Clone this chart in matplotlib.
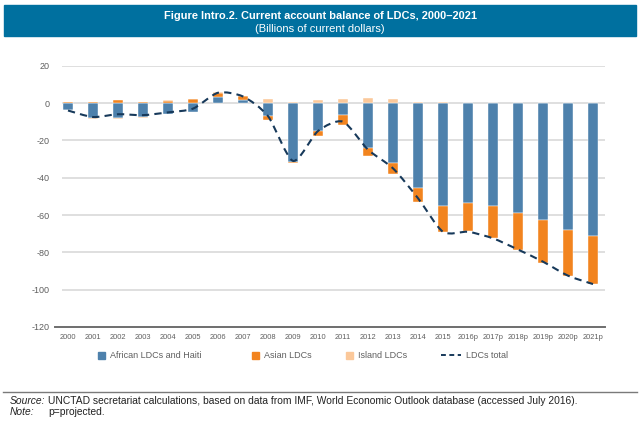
import numpy as np
import matplotlib
matplotlib.use("Agg")
import matplotlib.pyplot as plt
from matplotlib.patches import Rectangle, Patch
from matplotlib.lines import Line2D
from matplotlib.path import Path
from matplotlib.patches import PathPatch

# datos (miles de millones de dolares)
anios = ["2000", "2001", "2002", "2003", "2004", "2005", "2006", "2007", "2008",
         "2009", "2010", "2011", "2012", "2013", "2014", "2015", "2016p", "2017p",
         "2018p", "2019p", "2020p", "2021p"]
africa = [-3.5, -7.8, -8.0, -7.5, -6.0, -4.6, 3.0, 1.5, -7.0, -31.5, -15.0, -6.5,
          -24.0, -32.0, -45.5, -55.0, -53.5, -55.0, -59.0, -62.5, -68.0, -71.0]
asia = [0.8, 0.8, 1.8, 0.8, 1.3, 2.0, 2.5, 2.0, -2.0, -0.5, -2.5, -5.5,
        -4.5, -6.0, -7.5, -14.0, -15.0, -17.5, -19.5, -23.0, -24.5, -26.0]
islas = [-0.5, -0.5, -0.5, -0.5, 0.4, 0.3, 0.3, 0.3, 2.0, 0.5, 1.5, 2.0,
         2.5, 2.0, 0.5, 0.5, 0.2, 0.1, 0.1, 0.1, 0.1, 0.1]
total = [-4.0, -7.5, -6.0, -6.5, -5.0, -3.0, 5.5, 3.5, -7.0, -31.0, -15.0, -10.0,
         -25.0, -35.0, -51.0, -69.0, -69.0, -72.5, -78.5, -85.0, -92.5, -97.0]
yticks = [20, 0, -20, -40, -60, -80, -100, -120]

c_africa = "#4E81AC"
c_asia = "#F2841F"
c_islas = "#FBC89A"
c_total = "#17395A"
gris = "#5f5f5f"

narrow = ["Liberation Sans Narrow", "Liberation Sans", "DejaVu Sans"]
normal = ["Liberation Sans", "DejaVu Sans"]

W, H = 640, 422
fig = plt.figure(figsize=(W / 100, H / 100), dpi=100)

# banda del titulo
fig.patches.append(Rectangle((4 / W, 1 - 36 / H), 632 / W, 31 / H,
                             transform=fig.transFigure, color="#00709F", zorder=0))
fig.text(0.5, 1 - 16 / H, "Figure Intro.2. Current account balance of LDCs, 2000\u20132021",
         ha="center", va="center", color="white", fontsize=7.9, fontweight="bold", family=narrow)
fig.text(0.5, 1 - 28.5 / H, "(Billions of current dollars)", ha="center", va="center",
         color="white", fontsize=8, family=normal)

# ejes
x0, x1 = 55, 605
ytop, ybot = 65.7, 327
ax = fig.add_axes([x0 / W, 1 - ybot / H, (x1 - x0) / W, (ybot - ytop) / H])
x = np.arange(len(anios))
ax.set_xlim(-0.52, len(anios) - 0.52)
ax.set_ylim(-120, 20)

for s in ["top", "right", "left"]:
    ax.spines[s].set_visible(False)
ax.spines["bottom"].set_color("#6e6e6e")
ax.spines["bottom"].set_linewidth(1.4)

ax.hlines(yticks[:-1], -0.24, len(anios) - 0.52, color="#dcdcdc", lw=1.3, zorder=0)

# barras apiladas (positivos y negativos por separado)
pos = np.zeros(len(anios))
neg = np.zeros(len(anios))
ancho = 0.38
for serie, col in [(africa, c_africa), (asia, c_asia), (islas, c_islas)]:
    v = np.array(serie)
    base = np.where(v >= 0, pos, neg)
    ax.bar(x, v, ancho, bottom=base, color=col, edgecolor="white", linewidth=0.3, zorder=2)
    pos = pos + np.where(v >= 0, v, 0)
    neg = neg + np.where(v < 0, v, 0)

# linea total suavizada
t = np.array(total)
pts = np.column_stack([x, t])
ext = np.vstack([pts[0], pts, pts[-1]])
k = 1 / 8
verts = [tuple(pts[0])]
codes = [Path.MOVETO]
for i in range(len(pts) - 1):
    p0, p1, p2, p3 = ext[i], ext[i + 1], ext[i + 2], ext[i + 3]
    c1 = p1 + (p2 - p0) * k
    c2 = p2 - (p3 - p1) * k
    verts += [tuple(c1), tuple(c2), tuple(p2)]
    codes += [Path.CURVE4] * 3
ax.add_patch(PathPatch(Path(verts, codes), fill=False, edgecolor=c_total, lw=1.5,
                       linestyle=(0, (3.5, 2.5)), zorder=3))

ax.set_yticks(yticks)
ax.set_yticklabels([str(v) for v in yticks], family=normal, fontsize=6.5, color=gris)
ax.set_xticks(x)
ax.set_xticklabels(anios, family=narrow, fontsize=5.4, color=gris)
ax.tick_params(axis="both", length=0)
ax.tick_params(axis="y", pad=4)
ax.tick_params(axis="x", pad=5)

# leyenda
items = [
    (Patch(color=c_africa), "African LDCs and Haiti", 98),
    (Patch(color=c_asia), "Asian LDCs", 252),
    (Patch(color=c_islas), "Island LDCs", 346),
    (Line2D([], [], color=c_total, lw=1.4, linestyle=(0, (2.5, 1.8))), "LDCs total", 441),
]
for h, lab, px in items:
    lg = fig.legend([h], [lab], loc="center left", bbox_to_anchor=(px / W, 1 - 356 / H),
                    frameon=False, prop={"family": narrow, "size": 6.5},
                    handlelength=(2.2 if isinstance(h, Line2D) else 0.75),
                    handleheight=0.75, handletextpad=0.6, borderaxespad=0, borderpad=0)
    for tx in lg.get_texts():
        tx.set_color(gris)

# nota al pie
fig.add_artist(Line2D([3 / W, 637 / W], [1 - 392 / H, 1 - 392 / H], color="#7a7a7a",
                      lw=1.0, transform=fig.transFigure))
fig.text(10 / W, 1 - 401 / H, "Source:", style="italic", fontsize=7.4, family=normal,
         va="center", color="#222222")
fig.text(48 / W, 1 - 401 / H, "UNCTAD secretariat calculations, based on data from IMF, "
         "World Economic Outlook database (accessed July 2016).", fontsize=7.4,
         family=normal, va="center", color="#222222")
fig.text(10 / W, 1 - 412 / H, "Note:", style="italic", fontsize=7.4, family=normal,
         va="center", color="#222222")
fig.text(48 / W, 1 - 412 / H, "p=projected.", fontsize=7.4, family=normal,
         va="center", color="#222222")

fig.savefig("out.png", dpi=100)
